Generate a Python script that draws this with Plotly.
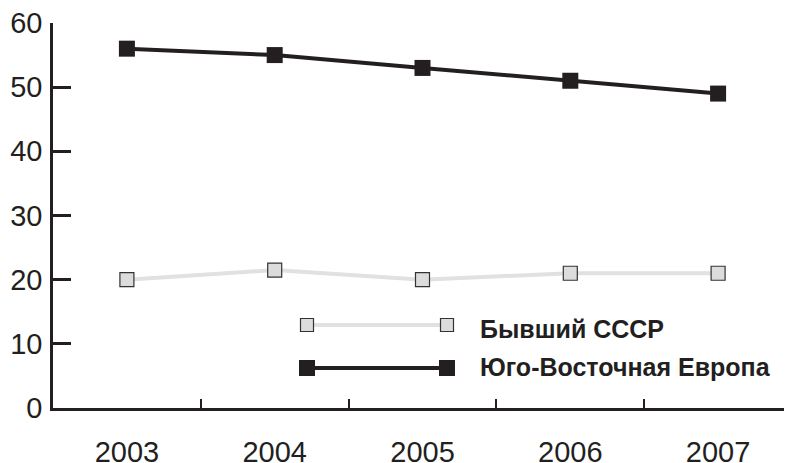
import plotly.graph_objects as go

years = ["2003", "2004", "2005", "2006", "2007"]
ussr = [20, 21.5, 20, 21, 21]
see = [56, 55, 53, 51, 49]
y_ticks = [0, 10, 20, 30, 40, 50, 60]
names = ["Бывший СССР", "Юго-Восточная Европа"]

INK = "#231f20"
GRAY_LINE = "#e1e1e1"
GRAY_FILL = "#dcdcdc"
FONT = "Liberation Sans, Arial, sans-serif"

fig = go.Figure()
fig.add_trace(go.Scatter(
    x=years, y=ussr, mode="lines+markers", name=names[0],
    line=dict(color=GRAY_LINE, width=4),
    marker=dict(symbol="square", size=14, color=GRAY_FILL, line=dict(color="#333333", width=1.2)),
    cliponaxis=False, showlegend=False))
fig.add_trace(go.Scatter(
    x=years, y=see, mode="lines+markers", name=names[1],
    line=dict(color=INK, width=4),
    marker=dict(symbol="square", size=16, color=INK, line=dict(color=INK, width=0)),
    cliponaxis=False, showlegend=False))

# custom legend (paper coords; page pixels mapped onto plot area 53..792 x 23..408)
def px_x(p):
    return (p - 53) / (792 - 53)

def px_y(p):
    return (408 - p) / (408 - 23)

leg = [
    (325, GRAY_LINE, GRAY_FILL, "#333333", 13, names[0], 329),
    (368, INK, INK, INK, 16, names[1], 367),
]
for yy, lc, fc, oc, sz, txt, ty in leg:
    fig.add_shape(type="line", xref="paper", yref="paper",
                  x0=px_x(307), x1=px_x(447), y0=px_y(yy), y1=px_y(yy),
                  line=dict(color=lc, width=4))
    for cx in (307, 447):
        h = sz / 2
        fig.add_shape(type="rect", xref="paper", yref="paper",
                      x0=px_x(cx - h), x1=px_x(cx + h), y0=px_y(yy + h), y1=px_y(yy - h),
                      fillcolor=fc, line=dict(color=oc, width=1.2 if fc != oc else 0))
    fig.add_annotation(xref="paper", yref="paper", x=px_x(478), y=px_y(ty),
                       xanchor="left", yanchor="middle", showarrow=False,
                       text=txt, font=dict(family=FONT, size=25, color=INK, weight="bold"))

# page body has an 8px margin, so the figure is 8px smaller and margins shifted
fig.update_layout(
    width=784, height=455,
    margin=dict(l=45, r=0, t=15, b=55),
    paper_bgcolor="white", plot_bgcolor="white",
    font=dict(family=FONT, size=29, color=INK),
    xaxis=dict(
        type="category", range=[-0.5, 4.5], automargin=False,
        showgrid=False, zeroline=False,
        showline=True, linecolor=INK, linewidth=2.5,
        ticks="inside", tickson="boundaries", ticklen=9, tickwidth=2, tickcolor=INK,
        ticklabelstandoff=16, ticklabeloverflow="allow",
        tickfont=dict(size=29, color=INK),
    ),
    yaxis=dict(
        range=[0, 60], tickvals=y_ticks, automargin=False,
        showgrid=False, zeroline=False,
        showline=True, linecolor=INK, linewidth=2.5,
        ticks="inside", ticklen=18, tickwidth=2.5, tickcolor=INK,
        ticklabelstandoff=2, ticklabeloverflow="allow",
        tickfont=dict(size=29, color=INK),
    ),
)

fig.write_html("out.html")
